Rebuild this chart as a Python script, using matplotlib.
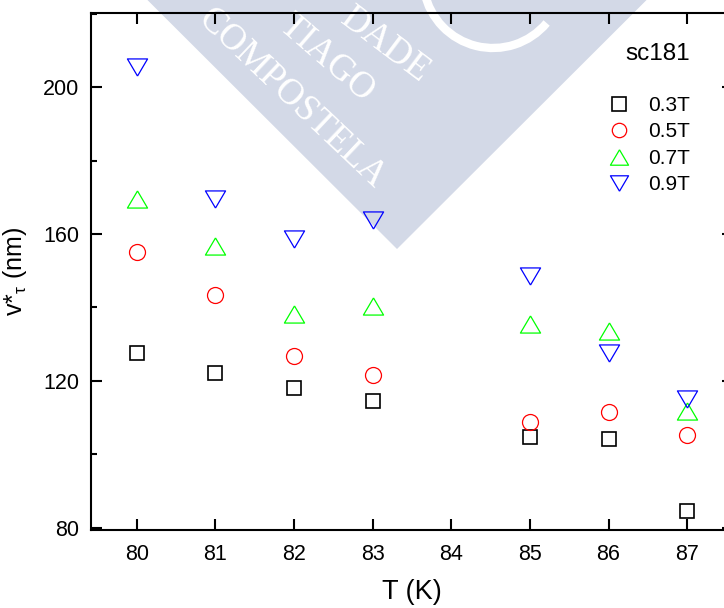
import numpy as np
import matplotlib
matplotlib.use('Agg')
import matplotlib.pyplot as plt
from matplotlib.patches import Polygon, Arc
from matplotlib.ticker import MultipleLocator

plt.rcParams['font.family'] = ['Liberation Sans', 'DejaVu Sans']
plt.rcParams['mathtext.fontset'] = 'custom'
plt.rcParams['mathtext.rm'] = 'Liberation Sans'
plt.rcParams['mathtext.it'] = 'Liberation Sans:italic'

# temperatures (K)
T = [80, 81, 82, 83, 85, 86, 87]

# v*tau (nm) for each field
vt_03 = [127.6, 122.1, 118.0, 114.4, 104.6, 104.1, 84.6]
vt_05 = [155.0, 143.4, 126.9, 121.5, 108.8, 111.4, 105.3]
vt_07 = [169.5, 156.8, 138.3, 140.5, 135.6, 133.7, 111.8]
vt_09 = [205.5, 169.6, 158.7, 163.9, 148.5, 127.5, 115.0]

campos = ['0.3T', '0.5T', '0.7T', '0.9T']

W, H = 724, 608
fig = plt.figure(figsize=(W/100, H/100), dpi=100)

# marca de agua de fondo (coordenadas en pixeles)
bg = fig.add_axes([0, 0, 1, 1], zorder=-1)
bg.set_xlim(0, W)
bg.set_ylim(H, 0)
bg.axis('off')
wm = '#d3d9e7'
bg.add_patch(Polygon([(-53, -200), (847, -200), (397, 249)], closed=True, fc=wm, ec='none'))
bg.add_patch(Arc((493, -22), 140, 140, theta1=40, theta2=168, ec='white', lw=6))
for txt, (cx, cy), ang in [('DADE', (385, 45), -37),
                           ('TIAGO', (327, 58), -41),
                           ('COMPOSTELA', (292, 99), -43.5)]:
    bg.text(cx, cy, txt, rotation=ang, rotation_mode='anchor', ha='center', va='center',
            color='white', fontsize=26.5, family='Liberation Serif')

# ejes principales
ax = fig.add_axes([90.5/W, 1 - 530/H, (732.7 - 90.5)/W, (530 - 13.3)/H])
ax.patch.set_alpha(0)

tri_up = [(0, 0.85), (-1, -0.85), (1, -0.85), (0, 0.85)]
tri_dn = [(0, -0.85), (-1, 0.85), (1, 0.85), (0, -0.85)]

ax.plot(T, vt_03, ls='none', marker='s', ms=10.5, mfc='none', mec='black', mew=1.2, label=campos[0])
ax.plot(T, vt_05, ls='none', marker='o', ms=11.5, mfc='none', mec='red', mew=0.9, label=campos[1])
ax.plot(T, vt_07, ls='none', marker=tri_up, ms=14.5, mfc='none', mec='#00ff00', mew=0.9, label=campos[2])
ax.plot(T, vt_09, ls='none', marker=tri_dn, ms=14.5, mfc='none', mec='blue', mew=0.9, label=campos[3])

ax.set_xlim(79.41, 87.58)
ax.set_ylim(79.4, 220.1)
ax.xaxis.set_major_locator(MultipleLocator(1))
ax.yaxis.set_major_locator(MultipleLocator(40))
ax.yaxis.set_minor_locator(MultipleLocator(20))

for s in ax.spines.values():
    s.set_linewidth(1.5)
ax.tick_params(which='both', direction='in', top=True, right=True, width=1.5)
ax.tick_params(which='major', length=8, labelsize=15.5, pad=8)
ax.tick_params(axis='x', which='major', pad=10)
ax.tick_params(which='minor', length=4.3)

ax.set_xlabel('T (K)', fontsize=19.5, labelpad=10)
ax.set_ylabel(r'v*$_\mathregular{τ}$ (nm)', fontsize=18, labelpad=10)

leg = ax.legend(title='sc181', loc='upper right', bbox_to_anchor=(0.962, 0.978),
                frameon=False, fontsize=15, title_fontsize=17.5, handlelength=1.0,
                handletextpad=0.9, labelspacing=0.36, markerscale=0.9, alignment='right')
leg._legend_box.sep = 22

plt.savefig('out.png', dpi=100)
